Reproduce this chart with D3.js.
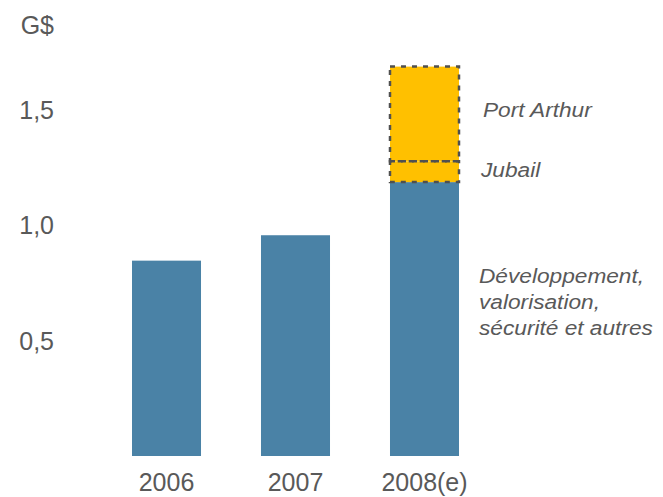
<!DOCTYPE html>
<html>
<head>
<meta charset="utf-8">
<script src="https://cdn.jsdelivr.net/npm/d3@7"></script>
<style>
  html, body { margin: 0; padding: 0; background: #fff; }
  svg { display: block; }
  text { font-family: "Liberation Sans", Arial, sans-serif; fill: #595959; }
</style>
</head>
<body>
<svg id="chart" width="663" height="497"></svg>
<script>
const categories = ["2006", "2007", "2008(e)"];
const baseValues = [0.85, 0.96, 1.19];
const jubailValues = [0, 0, 0.09];
const portArthurValues = [0, 0, 0.41];
const yTickValues = [0.5, 1.0, 1.5];
const yTickLabels = ["0,5", "1,0", "1,5"];
const unitLabel = "G$";
const seriesLabels = ["Port Arthur", "Jubail", "Développement,|valorisation,|sécurité et autres"];

const svg = d3.select("#chart");

const x = d3.scaleBand().domain(categories).range([106.2, 484.8])
  .paddingInner(0.465).paddingOuter(0.2);
const y = d3.scaleLinear().domain([0, 1.5]).range([457, 110.5]);

const blue = "#4a82a6", yellow = "#ffc000", dashCol = "#505050";
const FONT = "Liberation Sans, Arial, sans-serif";

// base bars
svg.append("g").selectAll("rect").data(categories).join("rect")
  .attr("x", d => x(d))
  .attr("width", x.bandwidth())
  .attr("y", (d, i) => y(baseValues[i]))
  .attr("height", (d, i) => y(0) - y(baseValues[i]) - 1)
  .attr("fill", blue);

// stacked dashed segments
const segs = [];
categories.forEach((c, i) => {
  const b = baseValues[i], j = jubailValues[i], p = portArthurValues[i];
  if (j > 0) segs.push({c, y0: b, y1: b + j});
  if (p > 0) segs.push({c, y0: b + j, y1: b + j + p});
});
const sg = svg.append("g");
sg.selectAll("rect.fill").data(segs).join("rect")
  .attr("class", "fill")
  .attr("x", d => x(d.c))
  .attr("width", x.bandwidth())
  .attr("y", d => y(d.y1))
  .attr("height", d => y(d.y0) - y(d.y1))
  .attr("fill", yellow);
sg.selectAll("rect.outline").data(segs).join("rect")
  .attr("class", "outline")
  .attr("x", d => x(d.c))
  .attr("width", x.bandwidth())
  .attr("y", d => y(d.y1))
  .attr("height", d => y(d.y0) - y(d.y1))
  .attr("fill", "none")
  .attr("stroke", dashCol)
  .attr("stroke-width", 2.5)
  .attr("stroke-dasharray", "5,6");

// y axis labels
const yAxis = d3.axisLeft(y).tickValues(yTickValues)
  .tickFormat((d, i) => yTickLabels[i]).tickSize(0).tickPadding(0);
const ya = svg.append("g").attr("transform", "translate(54,0)").call(yAxis);
ya.select(".domain").remove();
ya.selectAll("text").attr("font-size", 25).attr("fill", "#595959")
  .attr("font-family", FONT)
  .attr("dy", "0.3em");

svg.append("text").attr("x", 54).attr("y", 34).attr("text-anchor", "end")
  .attr("font-size", 25).text(unitLabel);

// x axis labels
const xAxis = d3.axisBottom(x).tickSize(0).tickPadding(0);
const xa = svg.append("g").attr("transform", "translate(0,491)").call(xAxis);
xa.select(".domain").remove();
xa.selectAll("text").attr("font-size", 25).attr("fill", "#595959")
  .attr("font-family", FONT)
  .attr("dy", "0");

// series labels on right
const last = categories.length - 1;
const lb = baseValues[last], lj = jubailValues[last], lp = portArthurValues[last];
const labelX = 483;
function addLabel(lines, baseY, lx) {
  const t = svg.append("text")
    .attr("transform", `translate(${lx},${baseY}) scale(1.08,1)`)
    .attr("font-size", 21).attr("font-style", "italic");
  lines.forEach((l, k) => t.append("tspan").attr("x", 0).attr("y", k * 26).text(l));
}
addLabel([seriesLabels[0]], (y(lb + lj + lp) + y(lb + lj)) / 2 + 3, labelX);
addLabel([seriesLabels[1]], (y(lb + lj) + y(lb)) / 2 + 5, labelX - 2);
addLabel(seriesLabels[2].split("|"), (y(lb) + y(0)) / 2 - 37, 479);
</script>
</body>
</html>
